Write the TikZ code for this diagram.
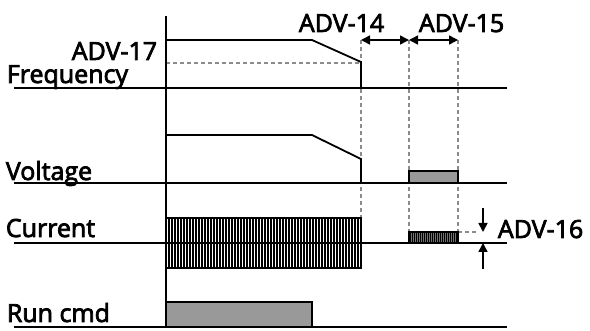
\documentclass[tikz,border=0pt]{standalone}
\usepackage{fontspec}
\setmainfont{Open Sans}[FakeBold=3]
\usetikzlibrary{arrows.meta}
\begin{document}
\begin{tikzpicture}[x=1pt,y=-1pt,line width=1.8pt,
  lbl/.style={inner sep=0pt,font=\fontsize{25}{25}\selectfont},
  guide/.style={black!45,line width=1.3pt,dash pattern=on 4pt off 3pt},
  dimarrow/.style={line width=1.6pt,{Triangle[length=9pt,width=9pt]}-{Triangle[length=9pt,width=9pt]}},
  onearrow/.style={line width=1.6pt,-{Triangle[length=9pt,width=9pt]}},
  boxfill/.style={fill=black!40,draw=black,line width=1.5pt}]
\useasboundingbox (0,0) rectangle (590,331);
% coordinates
\coordinate (t14a) at (361,40);
\coordinate (t14b) at (409,40);
\coordinate (t15b) at (458,40);
\coordinate (d16a) at (483,208);
\coordinate (d16b) at (483,232);
\coordinate (u16a) at (483,269);
\coordinate (u16b) at (483,243);
% guides
\draw[guide] (166,63) -- (361,63);
\draw[guide] (t14a) -- (361,218);
\draw[guide] (t14b) -- (409,232);
\draw[guide] (t15b) -- (458,232);
\draw[guide] (458,232) -- (478,232);
% boxes
\draw[boxfill] (409,183) rectangle (458,171);
\draw[boxfill] (166,327) rectangle (312,302);
\fill[black!55] (409,232) rectangle (458,243);
\foreach \x in {410,412,...,457} \draw[line width=0.8pt] (\x,232) -- (\x,243);
\draw[line width=1.3pt] (409,243) -- (409,232) -- (458,232) -- (458,243);
\foreach \x in {169,172,...,360} \draw[line width=1.1pt] (\x,218) -- (\x,268);
\draw[line width=1.5pt] (166,218) -- (361,218) -- (361,268) -- (166,268);
% frequency profile
\draw (166,40) -- (312,40) -- (361,62) -- (361,88);
% voltage profile
\draw (166,135) -- (312,135) -- (361,159) -- (361,183);
% baselines
\draw (14,88) -- (507,88);
\draw (14,183) -- (507,183);
\draw (14,243) -- (507,243);
\draw (14,327) -- (507,327);
% axis
\draw (166,16) -- (166,328);
% dimension arrows
\draw[dimarrow] (t14a) -- (t14b);
\draw[dimarrow] (t14b) -- (t15b);
\draw[onearrow] (d16a) -- (d16b);
\draw[onearrow] (u16a) -- (u16b);
% labels
\node[lbl,anchor=base west] (freq) at (6,83) {Frequency};
\node[lbl,anchor=base east] (adv17) at (158,60) {ADV-17};
\node[lbl,anchor=base west] (volt) at (5,180) {Voltage};
\node[lbl,anchor=base west] (curr) at (5,237) {Current};
\node[lbl,anchor=base west] (run) at (6,322) {Run cmd};
\node[lbl,anchor=base west] (adv14) at (298,32) {ADV-14};
\node[lbl,anchor=base west] (adv15) at (418,32) {ADV-15};
\node[lbl,anchor=base west] (adv16) at (497,238) {ADV-16};
\end{tikzpicture}
\end{document}
